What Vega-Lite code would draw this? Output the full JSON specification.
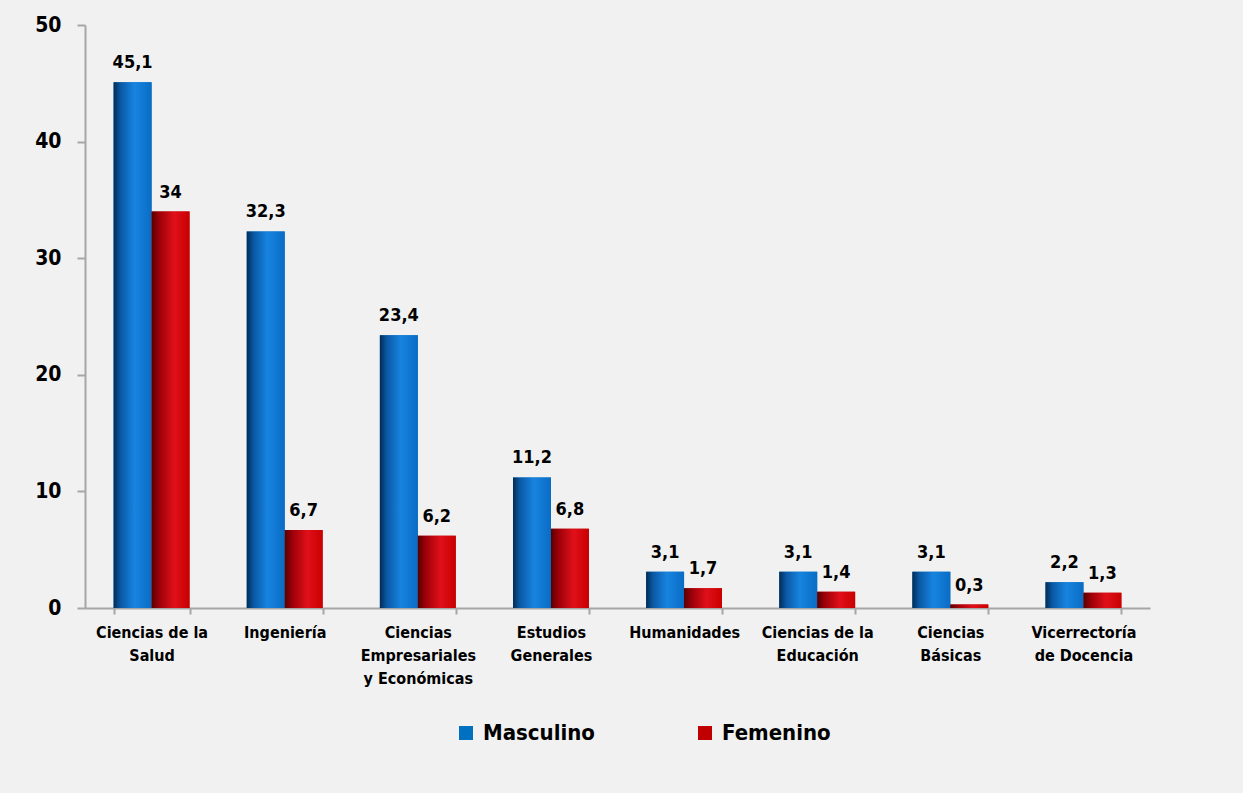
{
  "$schema": "https://vega.github.io/schema/vega-lite/v6.json",
  "autosize": {"type": "none"},
  "width": 1065,
  "height": 583,
  "padding": {"left": 85, "top": 25, "right": 93, "bottom": 185},
  "background": "#f1f1f1",
  "config": {
    "view": {"stroke": null},
    "font": "DejaVu Sans Condensed, Liberation Sans, Arial, sans-serif",
    "locale": {"number": {"decimal": ",", "thousands": ".", "grouping": [3], "currency": ["", " €"]}}
  },
  "data": {
    "values": [
      {"area": "Ciencias de la Salud", "sexo": "Masculino", "valor": 45.1},
      {"area": "Ciencias de la Salud", "sexo": "Femenino", "valor": 34},
      {"area": "Ingeniería", "sexo": "Masculino", "valor": 32.3},
      {"area": "Ingeniería", "sexo": "Femenino", "valor": 6.7},
      {"area": "Ciencias Empresariales y Económicas", "sexo": "Masculino", "valor": 23.4},
      {"area": "Ciencias Empresariales y Económicas", "sexo": "Femenino", "valor": 6.2},
      {"area": "Estudios Generales", "sexo": "Masculino", "valor": 11.2},
      {"area": "Estudios Generales", "sexo": "Femenino", "valor": 6.8},
      {"area": "Humanidades", "sexo": "Masculino", "valor": 3.1},
      {"area": "Humanidades", "sexo": "Femenino", "valor": 1.7},
      {"area": "Ciencias de la Educación", "sexo": "Masculino", "valor": 3.1},
      {"area": "Ciencias de la Educación", "sexo": "Femenino", "valor": 1.4},
      {"area": "Ciencias Básicas", "sexo": "Masculino", "valor": 3.1},
      {"area": "Ciencias Básicas", "sexo": "Femenino", "valor": 0.3},
      {"area": "Vicerrectoría de Docencia", "sexo": "Masculino", "valor": 2.2},
      {"area": "Vicerrectoría de Docencia", "sexo": "Femenino", "valor": 1.3}
    ]
  },
  "encoding": {
    "x": {
      "field": "area", "type": "nominal", "sort": null,
      "scale": {"paddingInner": 0.43, "paddingOuter": 0.215},
      "axis": {
        "title": null, "labelAngle": 0, "labelFontSize": 16, "labelFontWeight": "bold", "labelColor": "#000000",
        "labelLineHeight": 23, "labelPadding": 10, "labelBaseline": "top",
        "domainColor": "#a6a6a6", "domainWidth": 2, "tickColor": "#a6a6a6", "tickWidth": 2, "tickSize": 6,
        "tickBand": "extent", "labelLimit": 200,
        "labelExpr": "datum.value == 'Ciencias de la Salud' ? ['Ciencias de la', 'Salud'] : datum.value == 'Ciencias Empresariales y Económicas' ? ['Ciencias', 'Empresariales', 'y Económicas'] : datum.value == 'Estudios Generales' ? ['Estudios', 'Generales'] : datum.value == 'Ciencias de la Educación' ? ['Ciencias de la', 'Educación'] : datum.value == 'Ciencias Básicas' ? ['Ciencias', 'Básicas'] : datum.value == 'Vicerrectoría de Docencia' ? ['Vicerrectoría', 'de Docencia'] : datum.value"
      }
    },
    "xOffset": {"field": "sexo", "type": "nominal", "sort": ["Masculino", "Femenino"], "scale": {"paddingInner": 0, "paddingOuter": 0}},
    "y": {
      "field": "valor", "type": "quantitative",
      "scale": {"domain": [0, 50], "nice": false},
      "axis": {
        "title": null, "values": [0, 10, 20, 30, 40, 50], "grid": false,
        "labelFontSize": 21, "labelFontWeight": "bold", "labelColor": "#000000", "labelPadding": 16,
        "domainColor": "#a6a6a6", "domainWidth": 2, "tickColor": "#a6a6a6", "tickWidth": 2, "tickSize": 8
      }
    }
  },
  "layer": [
    {
      "mark": {"type": "bar"},
      "encoding": {
        "color": {
          "field": "sexo", "type": "nominal",
          "scale": {"domain": ["Masculino", "Femenino"], "range": ["#0070c0", "#c00000"]},
          "legend": {
            "title": null, "orient": "none", "direction": "horizontal", "legendX": 370, "legendY": 697,
            "symbolType": "square", "symbolSize": 196, "symbolStrokeWidth": 0,
            "labelFontSize": 22, "labelFontWeight": "bold", "labelColor": "#000000", "labelOffset": 6,
            "columnPadding": 99, "labelLimit": 300
          }
        }
      }
    },
    {
      "transform": [{"filter": "datum.sexo == 'Masculino'"}],
      "mark": {
        "type": "bar",
        "fill": {"gradient": "linear", "x1": 0, "y1": 0, "x2": 1, "y2": 0,
          "stops": [
            {"offset": 0, "color": "#022c55"},
            {"offset": 0.18, "color": "#0a58a4"},
            {"offset": 0.55, "color": "#1784e0"},
            {"offset": 1, "color": "#0a6cc4"}
          ]}
      }
    },
    {
      "transform": [{"filter": "datum.sexo == 'Femenino'"}],
      "mark": {
        "type": "bar",
        "fill": {"gradient": "linear", "x1": 0, "y1": 0, "x2": 1, "y2": 0,
          "stops": [
            {"offset": 0, "color": "#560000"},
            {"offset": 0.2, "color": "#9c0008"},
            {"offset": 0.6, "color": "#e0101a"},
            {"offset": 1, "color": "#c80000"}
          ]}
      }
    },
    {
      "mark": {"type": "text", "baseline": "alphabetic", "dy": -14, "fontSize": 18, "fontWeight": "bold", "color": "#000000"},
      "encoding": {
        "text": {"field": "valor", "type": "quantitative", "format": ".1~f"}
      }
    }
  ]
}
